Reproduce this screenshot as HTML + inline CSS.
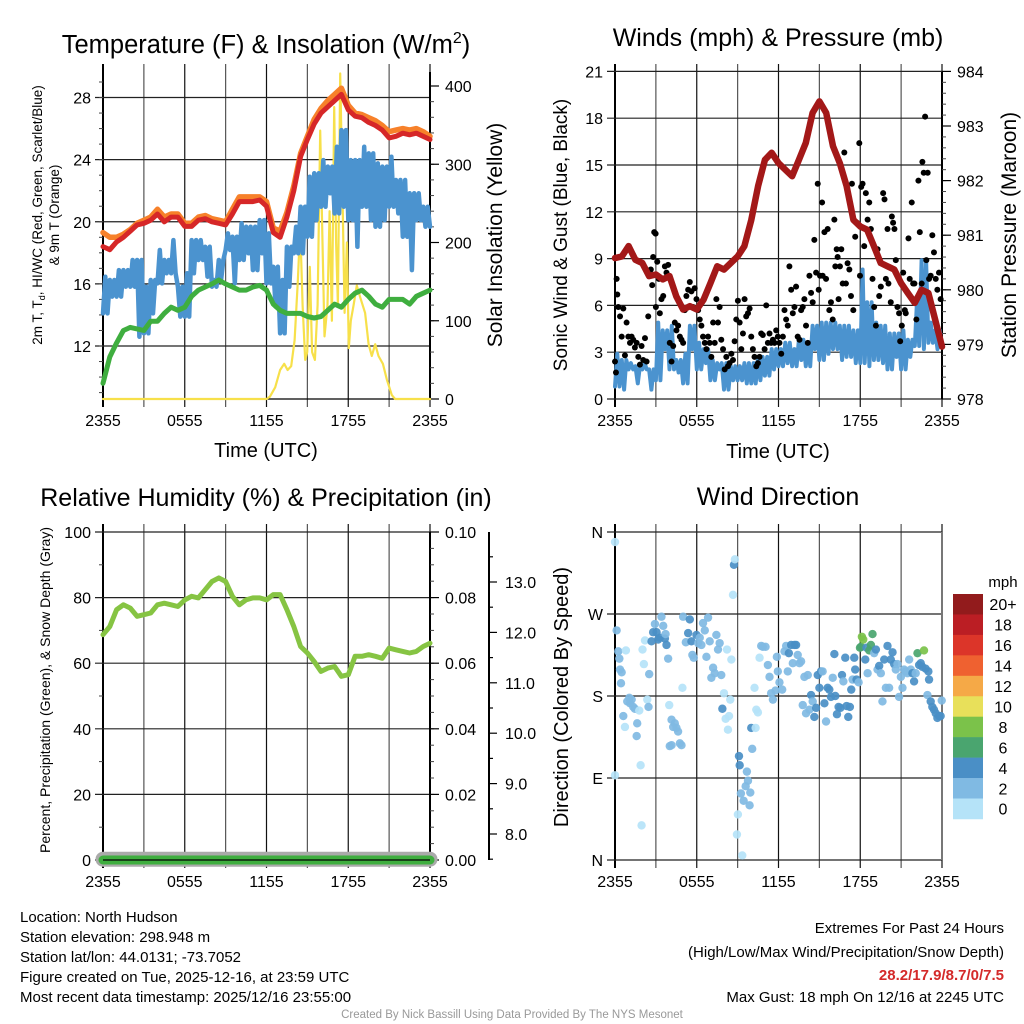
<!DOCTYPE html>
<html><head><meta charset="utf-8"><style>
html,body{margin:0;padding:0;background:#fff;}
svg{display:block;font-family:"Liberation Sans",Arial,sans-serif;}
</style></head><body>
<svg id="chart" width="1024" height="1024" viewBox="0 0 1024 1024">
<rect width="1024" height="1024" fill="#fff"/>
<text x="266" y="53" font-size="25.5" text-anchor="middle">Temperature (F) &amp; Insolation (W/m<tspan font-size="16" dy="-10">2</tspan><tspan dy="10">)</tspan></text>
<text x="778" y="46" font-size="25" text-anchor="middle">Winds (mph) &amp; Pressure (mb)</text>
<text x="266" y="506" font-size="25" text-anchor="middle">Relative Humidity (%) &amp; Precipitation (in)</text>
<text x="778" y="505" font-size="25" text-anchor="middle">Wind Direction</text>

<text x="266" y="457" font-size="20" text-anchor="middle">Time (UTC)</text>
<text x="778" y="458" font-size="20" text-anchor="middle">Time (UTC)</text>
<text transform="translate(42,215) rotate(-90)" font-size="13.5" text-anchor="middle">2m T, T<tspan font-size="9" dy="3">d</tspan><tspan dy="-3">, HI/WC (Red, Green, Scarlet/Blue)</tspan></text>
<text transform="translate(59,215) rotate(-90)" font-size="13.5" text-anchor="middle">&amp; 9m T (Orange)</text>
<text transform="translate(502,235) rotate(-90)" font-size="21" text-anchor="middle">Solar Insolation (Yellow)</text>
<text transform="translate(567,235) rotate(-90)" font-size="19" text-anchor="middle">Sonic Wind &amp; Gust (Blue, Black)</text>
<text transform="translate(1016,235) rotate(-90)" font-size="21" text-anchor="middle">Station Pressure (Maroon)</text>
<text transform="translate(50,690) rotate(-90)" font-size="14" text-anchor="middle">Percent, Precipitation (Green), &amp; Snow Depth (Gray)</text>
<text transform="translate(568,697) rotate(-90)" font-size="20" text-anchor="middle">Direction (Colored By Speed)</text>

<g font-size="15">
<text x="20" y="922">Location: North Hudson</text>
<text x="20" y="942">Station elevation: 298.948 m</text>
<text x="20" y="962">Station lat/lon: 44.0131; -73.7052</text>
<text x="20" y="982">Figure created on Tue, 2025-12-16, at 23:59 UTC</text>
<text x="20" y="1002">Most recent data timestamp: 2025/12/16 23:55:00</text>
</g>
<g font-size="15" text-anchor="end">
<text x="1004" y="933">Extremes For Past 24 Hours</text>
<text x="1004" y="957">(High/Low/Max Wind/Precipitation/Snow Depth)</text>
<text x="1004" y="980" fill="#d42a2a" font-weight="bold">28.2/17.9/8.7/0/7.5</text>
<text x="1004" y="1002">Max Gust: 18 mph On 12/16 at 2245 UTC</text>
</g>
<text x="512" y="1018" font-size="11.5" fill="#999" text-anchor="middle">Created By Nick Bassill Using Data Provided By The NYS Mesonet</text>
</svg>
<script>
// ---- Data: half-hourly (0..24 h since 2355 UTC) ----
const hourLabels = ["2355","0555","1155","1755","2355"];
const tempRed = [18.4,18.2,18.7,19.0,19.4,19.8,19.9,20.1,20.5,20.0,20.3,20.3,19.7,19.7,20.1,20.2,20.0,19.9,19.8,20.5,21.3,21.3,21.3,21.4,21.0,19.3,19.0,20.3,22.0,24.2,25.3,26.3,27.0,27.4,27.8,28.2,27.2,26.8,26.7,26.4,26.2,25.9,25.4,25.5,25.7,25.6,25.7,25.5,25.3];
const temp9m = [19.3,19.0,19.0,19.2,19.5,19.9,20.1,20.3,20.8,20.3,20.5,20.5,19.9,19.9,20.3,20.4,20.2,20.1,20.0,20.8,21.6,21.6,21.6,21.6,21.3,19.6,19.4,20.6,22.3,24.4,25.5,26.6,27.3,27.8,28.2,28.6,27.5,27.0,26.9,26.7,26.5,26.2,25.8,25.9,26.0,25.9,26.0,25.8,25.5];
const dewpoint = [9.6,11.3,12.2,13.0,13.2,13.1,13.0,13.6,13.6,14.1,14.5,14.3,14.5,15.2,15.6,15.8,16.0,16.25,16.0,15.8,15.6,15.6,15.8,15.9,15.6,14.7,14.3,14.1,14.1,14.1,13.9,13.8,13.9,14.3,14.7,14.5,15.0,15.4,15.6,15.2,14.7,14.5,15.0,15.0,15.0,14.7,15.2,15.4,15.6];
const windChillLo = [14.1,15.18,15.18,15.82,15.82,12.6,12.82,14.1,16.03,16.68,16.68,13.89,13.89,16.68,17.54,16.46,15.82,16.25,18.18,16.03,17.54,17.97,16.89,17.97,16.03,14.53,12.82,15.82,17.97,17.97,19.04,20.11,20.97,21.83,20.54,20.97,20.11,18.39,20.97,20.11,19.68,20.11,20.97,20.54,19.04,16.89,20.11,19.68,19.68];
const windChillHi = [16.46,16.25,16.89,16.89,17.54,17.54,15.82,16.25,18.18,17.54,18.82,15.82,16.68,18.82,18.82,18.39,16.25,17.54,19.25,19.04,19.9,19.68,19.68,20.11,19.25,17.1,16.25,18.39,19.68,20.97,22.9,23.12,23.97,23.55,24.83,25.9,23.97,23.97,24.83,24.4,23.76,23.55,24.19,22.69,22.69,21.83,21.83,20.97,20.97];
const insolTime = [0,12,12.25,12.64,13.0,13.3,13.55,13.81,14.06,14.3,14.47,14.65,14.84,14.99,15.18,15.35,15.55,15.75,15.94,16.11,16.26,16.48,16.63,16.8,16.97,17.11,17.24,17.41,17.58,17.73,17.9,18.04,18.19,18.39,18.63,18.88,19.24,19.49,19.73,19.98,20.22,20.54,20.83,21.2,21.44,24];
const insolValue = [0,0,3,15,37,45,37,42,75,150,220,120,50,60,169,60,50,120,343,200,80,120,240,100,373,200,120,416,260,110,200,65,100,120,145,130,110,70,55,70,55,45,25,5,0,0];
const pressure = [980.58,980.61,980.80,980.55,980.49,980.25,980.28,980.19,980.25,979.88,979.64,979.70,979.64,979.82,980.12,980.43,980.37,980.49,980.61,980.80,981.28,981.90,982.38,982.51,982.32,982.20,982.08,982.38,982.69,983.24,983.45,983.24,982.63,982.32,981.90,981.28,981.16,981.10,980.80,980.49,980.43,980.37,980.12,979.94,979.76,980.00,979.94,979.45,978.96];
const windLo = [0.8,0.6,1.9,1.0,1.9,0.6,1.2,3.2,1.9,1.7,1.0,3.2,1.9,2.3,1.2,1.9,0.6,1.2,1.2,1.0,1.0,1.2,1.5,1.9,2.1,2.3,2.1,2.5,2.1,3.2,2.5,2.9,3.2,2.5,2.7,2.3,2.3,2.1,2.5,2.3,1.9,2.7,1.9,2.7,3.4,3.2,3.6,3.2,3.4];
const windHi = [2.9,2.5,2.3,2.1,2.3,1.9,4.9,4.4,4.7,2.5,2.9,4.7,3.6,3.2,2.5,2.3,2.3,2.1,2.1,2.3,2.3,2.7,2.7,3.2,3.2,3.6,3.2,3.8,3.6,4.7,4.9,4.9,4.9,4.7,4.7,4.4,8.3,6.2,4.9,4.7,4.2,4.2,4.4,3.8,6.4,8.9,4.9,4.4,4.2];
const gustTime = [0.12,0.17,0.24,0.37,0.49,0.61,0,0.07,0.73,0.85,0.98,1.10,1.22,1.34,1.46,1.59,1.71,1.83,1.95,2.07,2.20,2.32,2.44,2.63,2.73,2.80,2.88,2.98,3.0,3.10,3.22,3.29,3.41,3.54,3.66,3.78,3.90,4.02,4.15,4.27,4.39,4.51,4.63,4.76,4.88,5.0,5.12,5.24,5.37,5.49,5.61,5.73,5.85,5.98,6.10,6.22,6.34,6.46,6.59,6.71,6.83,6.95,7.07,7.20,7.32,7.44,7.56,7.68,7.80,7.93,8.05,8.17,8.29,8.41,8.54,8.66,8.78,8.90,9.02,9.15,9.27,9.39,9.51,9.63,9.76,9.88,10.0,10.12,10.24,10.37,10.49,10.61,10.73,10.85,10.98,11.10,11.22,11.34,11.46,11.59,11.71,11.83,11.95,12.07,12.20,12.32,12.44,12.56,12.68,12.80,12.93,13.05,13.17,13.29,13.41,13.54,13.66,13.78,13.90,14.02,14.15,14.27,14.39,14.51,14.63,14.76,14.88,14.95,15.05,15.20,15.24,15.37,15.49,15.61,15.73,15.85,15.98,16.10,16.17,16.27,16.34,16.41,16.51,16.61,16.71,16.83,16.95,17.07,17.20,17.32,17.39,17.49,17.63,17.76,17.93,17.98,18.07,18.17,18.29,18.41,18.54,18.66,18.78,18.90,19.02,19.15,19.27,19.39,19.51,19.68,19.78,19.88,20.0,20.07,20.24,20.32,20.41,20.51,20.61,20.73,20.85,20.93,21.05,21.15,21.27,21.34,21.54,21.63,21.78,21.88,21.98,22.12,22.27,22.37,22.51,22.56,22.66,22.76,22.85,22.95,23.05,23.17,23.29,23.41,23.54,23.66,23.78,23.90];
const gustSpeed = [7.7,6.7,5.9,5.3,4.0,5.8,2.4,1.7,2.8,4.9,4.0,3.6,4.0,3.8,3.3,3.6,2.7,2.2,3.4,2.5,3.9,2.4,5.3,8.3,7.3,9.1,10.7,10.6,5.9,8.8,7.7,5.5,6.4,6.6,8.5,8.1,8.6,3.6,2.4,3.4,4.9,4.4,4.7,4.0,3.8,3.6,5.7,6.6,7.0,7.5,6.9,5.9,7.1,6.4,5.7,5.1,4.7,4.0,3.6,3.2,4.0,3.6,2.7,4.9,3.6,6.4,4.9,5.9,3.8,3.2,1.9,2.7,2.1,2.3,2.9,2.5,3.7,5.1,6.3,4.9,3.2,4.2,6.4,5.3,5.5,5.8,4.0,3.2,2.7,2.1,2.3,2.7,4.2,4.1,3.2,6.0,3.6,4.2,3.6,3.8,3.6,4.4,4.0,3.6,2.9,4.0,5.7,5.1,4.7,8.5,7.0,5.5,5.9,7.2,4.0,3.8,5.7,5.9,6.4,4.7,3.6,7.9,6.8,6.2,10.2,8.1,13.8,7.0,7.9,12.6,7.9,10.7,7.7,10.9,5.7,6.2,5.1,11.5,8.5,9.6,9.1,6.4,8.5,9.6,7.4,15.8,7.4,8.7,8.3,6.6,13.8,5.7,10.4,11.3,16.4,7.9,13.6,13.8,9.8,13.2,11.5,12.6,10.9,7.7,5.9,4.7,9.6,6.6,7.2,13.2,12.8,7.7,10.9,7.4,6.2,11.7,11.3,10.9,8.9,5.9,5.5,3.7,4.7,8.1,5.7,5.5,10.3,7.7,12.6,7.4,7.4,5.1,14.0,10.7,7.4,15.2,14.5,18.1,8.9,14.5,7.7,7.9,10.5,9.4,7.7,7.0,8.1,6.4];
const humidity = [68.7,71.2,76.3,77.8,76.8,74.3,74.8,75.3,77.8,78.3,77.8,77.3,79.3,80.4,79.9,82.4,84.9,86.0,84.9,80.4,77.8,79.3,79.9,79.9,79.3,80.9,80.9,76.3,71.2,65.1,63.1,60.5,57.5,58.5,59.0,56.0,56.5,62.1,62.1,62.6,62.1,61.5,64.6,64.1,63.6,63.1,63.6,65.1,66.1];
const precipHours = [0,24];
const precipValue = [0,0];
const snowDepth = [7.5,7.5];
const dirTime = [0,0,0.12,0.24,0.32,0.37,0.49,0.44,0.8,0.61,0.73,0.9,1.05,1.1,1.22,1.34,1.46,1.63,1.59,1.78,1.88,1.95,2.02,2.12,2.2,2.37,2.46,2.51,2.68,2.8,2.93,3.05,3.17,3.29,3.41,3.54,3.66,3.78,3.71,3.9,3.98,4.15,4.27,4.39,4.51,4.63,4.76,4.88,4.02,4.15,4.95,5.0,5.2,5.37,5.49,5.61,5.68,5.78,5.98,6.1,6.22,6.34,6.46,6.59,6.71,6.83,6.95,7.07,7.2,7.32,7.44,7.56,7.68,7.8,7.88,8.0,8.12,8.22,8.29,8.37,8.46,8.54,8.66,8.73,8.8,8.95,9.02,9.1,9.15,9.24,9.34,9.44,9.59,9.68,9.76,9.88,9.93,10.0,10.07,10.24,10.32,10.37,10.49,10.61,10.73,10.85,11.05,11.22,11.34,11.46,11.59,11.78,11.88,11.95,12.07,12.27,12.44,12.56,12.68,12.76,12.93,13.05,13.17,13.29,13.41,13.54,13.66,13.78,13.9,14.02,14.15,14.27,14.39,14.51,14.63,14.76,14.88,15.0,15.12,15.24,15.37,15.49,15.61,15.73,15.85,15.98,16.1,16.17,16.29,16.41,16.54,16.66,16.76,16.9,17.0,17.12,17.24,17.34,17.44,17.56,17.63,17.73,17.88,17.98,18.05,18.12,18.22,18.37,18.46,18.54,18.66,18.78,18.9,19.02,19.15,19.27,19.39,19.51,19.63,19.76,19.88,20.0,20.12,20.24,20.37,20.49,20.61,20.73,20.85,20.98,21.1,21.22,21.34,21.46,21.59,21.71,21.83,21.95,22.07,22.2,22.32,22.44,22.56,22.68,22.8,22.93,23.0,23.05,23.17,23.29,23.41,23.54,23.66,23.78,23.9,23.98];
const dirDeg = [349,93,252,229,221,209,206,194,230,158,146,174,178,172,176,168,166,150,136,164,104,38,231,215,241,176,168,204,240,250,259,250,242,244,267,257,243,236,248,221,170,154,146,150,145,141,128,126,125,126,189,267,239,249,264,240,225,222,247,238,244,236,260,252,223,266,240,200,211,205,247,231,238,203,166,183,155,231,143,158,176,220,291,324,330,28,50,114,104,73,5,65,81,97,87,60,74,145,122,189,145,165,162,222,235,234,234,214,201,183,176,186,223,207,195,187,229,235,207,227,236,216,236,236,225,216,218,170,201,161,203,165,181,174,157,167,203,189,207,207,172,152,189,187,179,200,226,180,160,168,167,203,196,222,169,157,168,187,198,222,209,198,195,233,234,245,242,220,233,205,230,236,248,227,231,209,213,205,174,220,189,235,189,220,228,215,209,215,179,201,189,209,207,205,220,209,205,196,205,227,214,216,212,230,210,181,207,198,174,168,165,161,156,158,158,175];
const dirSpeed = [1,1,3,3,3,3,3,3,1,3,1,3,3,3,3,3,3,3,3,1,1,1,1,1,1,1,3,3,5,5,3,5,5,5,3,3,5,5,3,3,1,3,3,3,3,3,3,3,3,3,1,3,3,5,5,5,3,3,5,3,3,3,3,3,3,3,3,3,3,3,3,3,3,3,5,1,1,1,1,1,1,1,1,5,1,1,1,5,5,3,1,3,3,3,3,3,3,5,3,1,1,1,1,1,3,3,3,3,3,3,3,3,3,3,3,3,3,3,3,5,5,3,5,5,3,3,3,3,3,3,3,3,5,3,5,5,5,5,5,3,5,3,5,5,5,3,5,5,5,5,5,5,3,5,5,5,5,5,3,5,5,5,3,7,7,9,9,5,5,3,7,7,7,3,5,3,5,3,3,5,3,5,3,5,5,5,3,3,3,3,3,3,3,3,3,3,5,5,3,7,5,5,5,9,5,3,5,5,5,5,5,5,5,5,5,3];
const speedBins = ["0","2","4","6","8","10","12","14","16","18","20+"];
const binColors = ["#b5e3f8","#80bae3","#4a8fc6","#4aa56f","#7bc24a","#e8e05a","#f5a947","#ef6130","#dc3529","#bb1e24","#921b1c"];

const NS = 'http://www.w3.org/2000/svg';
const svg = document.getElementById('chart');
function mk(tag, attrs, parent) {
  const e = document.createElementNS(NS, tag);
  for (const k in attrs) e.setAttribute(k, attrs[k]);
  (parent || svg).appendChild(e);
  return e;
}
function txt(x, y, s, size, anchor, parent) {
  const t = mk('text', {x: x, y: y, 'font-size': size, 'text-anchor': anchor}, parent);
  t.textContent = s;
  return t;
}
function halfHours(n) { const a = []; for (let i = 0; i < n; i++) a.push(i * 0.5); return a; }

// ---- scales ----
const L1 = 103, R1 = 430, L2 = 615, R2 = 942;
const xA = h => L1 + h * (R1 - L1) / 24;
const xB = h => L2 + h * (R2 - L2) / 24;
const yTemp = v => 346 - (v - 12) * 15.53;
const yIns = v => 399 - v * 0.7825;
const yWind = v => 399 - v * 15.6;
const yPres = p => 399 - (p - 978) * 54.6;
const yRH = v => 860 - v * 3.28;
const yPr = v => 860 - v * 3280;
const ySnow = v => 834 - (v - 8) * 50.4;
const yDir = d => 860 - d * 328 / 360;

function frame(L, R, T, B, name) {
  const g = mk('g', {});
  
  
  for (let i = 0; i <= 8; i++) {
    const x = L + i * (R - L) / 8;
    const ln = mk('line', {x1: x, x2: x, y1: T - 8, y2: B + 8, stroke: i % 2 ? '#555' : '#111', 'stroke-width': 1.2}, g);
    
    
  }
  for (let i = 0; i < 5; i++) {
    const lb = txt(L + i * (R - L) / 4, B + 27, hourLabels[i], 16, 'middle', g);
    
    
  }
  const ax = mk('line', {x1: L, x2: L, y1: T - 8, y2: B + 8, stroke: '#000', 'stroke-width': 2}, g);
  
  
  return g;
}
function hgrid(L, R, y, label, g) {
  const ln = mk('line', {x1: L - 8, x2: R, y1: y, y2: y, stroke: '#222', 'stroke-width': 1.2}, g);
  
  
  const lb = txt(L - 12, y + 6, label, 16, 'end', g);
  
  
}
function rightAxis(R, T, B, majors, yf, fmt, minorStep, lo, hi, g, lx) {
  const ax = mk('line', {x1: R, x2: R, y1: T, y2: B, stroke: '#000', 'stroke-width': 2}, g);
  
  
  for (let v = lo; v <= hi + 1e-9; v += minorStep) {
    const y = yf(v);
    if (y < T - 0.5) continue;
    const tk = mk('line', {x1: R, x2: R + 4, y1: y, y2: y, stroke: '#444', 'stroke-width': 1}, g);
    
    
  }
  majors.forEach(v => {
    const y = yf(v);
    const tk = mk('line', {x1: R, x2: R + 9, y1: y, y2: y, stroke: '#000', 'stroke-width': 1.2}, g);
    
    
    const lb = txt(lx, y + 6, fmt(v), 16, 'start', g);
    
    
  });
}
function linePath(xs, ys, xf, yf, color, w, name, parent) {
  let d = '';
  for (let i = 0; i < xs.length; i++) d += (i ? 'L' : 'M') + xf(xs[i]).toFixed(1) + ',' + yf(ys[i]).toFixed(1);
  const p = mk('path', {d: d, fill: 'none', stroke: color, 'stroke-width': w, 'stroke-linejoin': 'round', 'stroke-linecap': 'round'}, parent);
  
  
  return p;
}
function zigzag(lo, hi, xf, yf, color, w, name, parent) {
  const xs = [], ys = [];
  for (let i = 0; i < lo.length; i++) {
    const h = i * 0.5;
    xs.push(h); ys.push(i % 2 ? hi[i] : lo[i]);
    if (i < lo.length - 1) { xs.push(h + 0.17); ys.push(i % 2 ? lo[i] : hi[i]); xs.push(h + 0.33); ys.push(i % 2 ? hi[i] : lo[i]); }
  }
  return linePath(xs, ys, xf, yf, color, w, name, parent);
}
const HH = halfHours(49);

// ===== Panel 1: temperature =====
const g1 = frame(L1, R1, 72, 399, 'temperature-panel');
[12, 16, 20, 24, 28].forEach(v => hgrid(L1, R1, yTemp(v), String(v), g1));
for (let v = 9; v <= 29; v++) {
  const tk = mk('line', {x1: L1 - 4, x2: L1, y1: yTemp(v), y2: yTemp(v), stroke: '#444'}, g1);
  
  
}
rightAxis(R1, 72, 399, [0, 100, 200, 300, 400], yIns, v => String(v), 20, 0, 420, g1, 445);
const bx1 = mk('line', {x1: L1, x2: R1, y1: 399, y2: 399, stroke: '#000', 'stroke-width': 1.2}, g1);


linePath(insolTime, insolValue, xA, yIns, '#f7e04a', 2.2, 'insolation-line', g1);
zigzag(windChillLo, windChillHi, xA, yTemp, '#4b93cf', 4.5, 'wind-chill-line', g1);
linePath(HH, dewpoint, xA, yTemp, '#3fae3f', 5, 'dewpoint-line', g1);
linePath(HH, temp9m, xA, yTemp, '#f7812a', 5.5, 'temp-9m-line', g1);
linePath(HH, tempRed, xA, yTemp, '#d62728', 5, 'temp-2m-line', g1);

// ===== Panel 2: winds =====
const g2 = frame(L2, R2, 72, 399, 'wind-panel');
[0, 3, 6, 9, 12, 15, 18, 21].forEach(v => hgrid(L2, R2, yWind(v), String(v), g2));
rightAxis(R2, 72, 399, [978, 979, 980, 981, 982, 983, 984], yPres, v => String(v), 0.2, 978, 984, g2, 957);
zigzag(windLo, windHi, xB, yWind, '#4b93cf', 4, 'sonic-wind-line', g2);
for (let i = 0; i < gustTime.length; i++) {
  const c = mk('circle', {cx: xB(gustTime[i]), cy: yWind(gustSpeed[i]), r: 3, fill: '#000'}, g2);
  
  
}
linePath(HH, pressure, xB, yPres, '#a31818', 6.5, 'pressure-line', g2);

// ===== Panel 3: humidity =====
const g3 = frame(L1, R1, 532, 860, 'humidity-panel');
[0, 20, 40, 60, 80, 100].forEach(v => hgrid(L1, R1, yRH(v), String(v), g3));
for (let v = 10; v <= 90; v += 20) {
  const tk = mk('line', {x1: L1 - 4, x2: L1, y1: yRH(v), y2: yRH(v), stroke: '#444'}, g3);
  
  
}
rightAxis(R1, 532, 860, [0, 0.02, 0.04, 0.06, 0.08, 0.10], yPr, v => v.toFixed(2), 0.005, 0, 0.1, g3, 445);
const sAx = mk('line', {x1: 489, x2: 489, y1: 532, y2: 860, stroke: '#000', 'stroke-width': 2}, g3);


for (let v = 7.5; v <= 13.9; v += 0.5) {
  const major = Math.abs(v - Math.round(v)) < 1e-6;
  const tk = mk('line', {x1: 489, x2: major ? 497 : 493, y1: ySnow(v), y2: ySnow(v), stroke: '#000', 'stroke-width': 1.2}, g3);
  
  
  if (major) {
    const lb = txt(505, ySnow(v) + 6, v.toFixed(1), 16, 'start', g3);
    
    
  }
}
linePath(precipHours, snowDepth, xA, ySnow, '#aaaaaa', 15, 'snow-depth-line', g3);
linePath(precipHours, precipValue, xA, yPr, '#3fae3f', 9, 'precipitation-line', g3);
const bx3 = mk('line', {x1: L1, x2: R1, y1: 860, y2: 860, stroke: '#000', 'stroke-width': 1.2}, g3);


linePath(HH, humidity, xA, yRH, '#86c443', 5, 'humidity-line', g3);

// ===== Panel 4: wind direction =====
const g4 = frame(L2, R2, 532, 860, 'direction-panel');
const dirLabels = ["N", "E", "S", "W", "N"];
[0, 90, 180, 270, 360].forEach((d, i) => hgrid(L2, R2, yDir(d), dirLabels[i], g4));
const rx4 = mk('line', {x1: R2, x2: R2, y1: 532, y2: 860, stroke: '#777', 'stroke-width': 2}, g4);


for (let i = 0; i < dirTime.length; i++) {
  const bin = Math.min(10, Math.floor(dirSpeed[i] / 2));
  const c = mk('circle', {cx: xB(dirTime[i]), cy: yDir(dirDeg[i]), r: 4.2, fill: binColors[bin], 'fill-opacity': 0.92}, g4);
  
  
}
// colorbar
const cb = mk('g', {});


const cbTop = 594, segH = 20.45;
const unit = txt(1003, 587, 'mph', 15, 'middle', cb);


for (let i = 0; i < speedBins.length; i++) {
  const k = speedBins.length - 1 - i;
  const r = mk('rect', {x: 953, y: cbTop + i * segH, width: 30, height: segH + 0.3, fill: binColors[k]}, cb);
  
  
  const lb = txt(1003, cbTop + i * segH + segH / 2 + 6, speedBins[k], 16, 'middle', cb);
  
  
}
</script>
</body></html>
